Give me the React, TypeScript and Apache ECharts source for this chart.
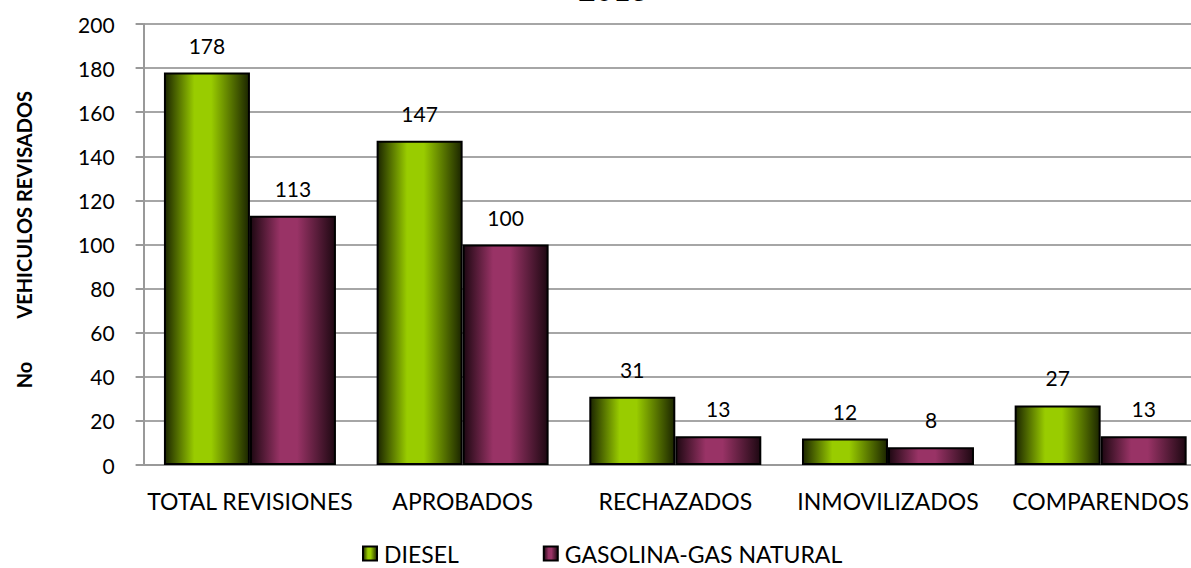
import React, { useEffect, useRef } from "react";
import * as echarts from "echarts";

const categories = ["TOTAL REVISIONES", "APROBADOS", "RECHAZADOS", "INMOVILIZADOS", "COMPARENDOS"];
const diesel = [178, 147, 31, 12, 27];
const gasolina = [113, 100, 13, 8, 13];
const yTicks = { min: 0, max: 200, interval: 20 };
const seriesNames = ["DIESEL", "GASOLINA-GAS NATURAL"];
const titleText = "2013";
const yAxisTitle = "  No         VEHICULOS REVISADOS";

const FONT = "Lato, 'Open Sans', sans-serif";
const FS = 21;
const FS_CAT = 23;

function grad(edge: string, mid: string) {
  return new echarts.graphic.LinearGradient(0, 0, 1, 0, [
    { offset: 0, color: edge },
    { offset: 0.35, color: mid },
    { offset: 0.55, color: mid },
    { offset: 1, color: edge },
  ]);
}

export default function App() {
  const ref = useRef<HTMLDivElement>(null);
  useEffect(() => {
    if (!ref.current) return;
    const chart = echarts.init(ref.current, null, { renderer: "svg" });
    const greenGrad = grad("#1c2600", "#99cc00");
    const purpleGrad = grad("#1e0812", "#993366");
    chart.setOption({
      animation: false,
      textStyle: { fontFamily: FONT },
      graphic: [
        {
          type: "text",
          x: 613,
          y: 4,
          style: {
            text: titleText,
            font: `bold 30px ${FONT}`,
            fill: "#000",
            textAlign: "center",
            textVerticalAlign: "bottom",
          },
        },
      ],
      legend: {
        data: [
          { name: seriesNames[0], itemStyle: { color: greenGrad } },
          { name: seriesNames[1], itemStyle: { color: purpleGrad } },
        ],
        left: 357,
        top: 537,
        itemWidth: 14,
        itemHeight: 14,
        itemGap: 84,
        icon: "rect",
        textStyle: { fontSize: FS_CAT, color: "#000", fontFamily: FONT, padding: [0, 0, 0, 2] },
      },
      grid: { left: 143.6, right: 3, top: 24, bottom: 103, containLabel: false },
      xAxis: {
        type: "category",
        data: categories,
        axisLine: { lineStyle: { color: "#999", width: 2 } },
        axisTick: { show: false },
        axisLabel: { fontSize: FS_CAT, color: "#000", margin: 24, fontFamily: FONT, interval: 0 },
      },
      yAxis: {
        type: "value",
        min: yTicks.min,
        max: yTicks.max,
        interval: yTicks.interval,
        name: yAxisTitle,
        nameLocation: "middle",
        nameGap: 110,
        nameTextStyle: { fontSize: 20, fontWeight: "bold", color: "#000", fontFamily: FONT },
        axisLine: { show: true, lineStyle: { color: "#999", width: 2 } },
        axisTick: { show: true, length: 8, lineStyle: { color: "#999", width: 2 } },
        axisLabel: { fontSize: FS, color: "#000", margin: 29, fontFamily: FONT },
        splitLine: { lineStyle: { color: "#a6a6a6", width: 2 } },
      },
      series: [
        {
          name: seriesNames[0],
          type: "bar",
          data: diesel,
          barWidth: 86,
          barGap: "0%",
          itemStyle: { color: greenGrad, borderColor: "#000", borderWidth: 2 },
          label: { show: true, position: "top", distance: 17, fontSize: FS, color: "#000", fontFamily: FONT },
        },
        {
          name: seriesNames[1],
          type: "bar",
          data: gasolina,
          barWidth: 86,
          barGap: "0%",
          itemStyle: { color: purpleGrad, borderColor: "#000", borderWidth: 2 },
          label: { show: true, position: "top", distance: 17, fontSize: FS, color: "#000", fontFamily: FONT },
        },
      ],
    });
    return () => chart.dispose();
  }, []);
  return (
    <div
      ref={ref}
      style={{ position: "fixed", left: 0, top: 0, width: 1210, height: 568, background: "#fff" }}
    />
  );
}
